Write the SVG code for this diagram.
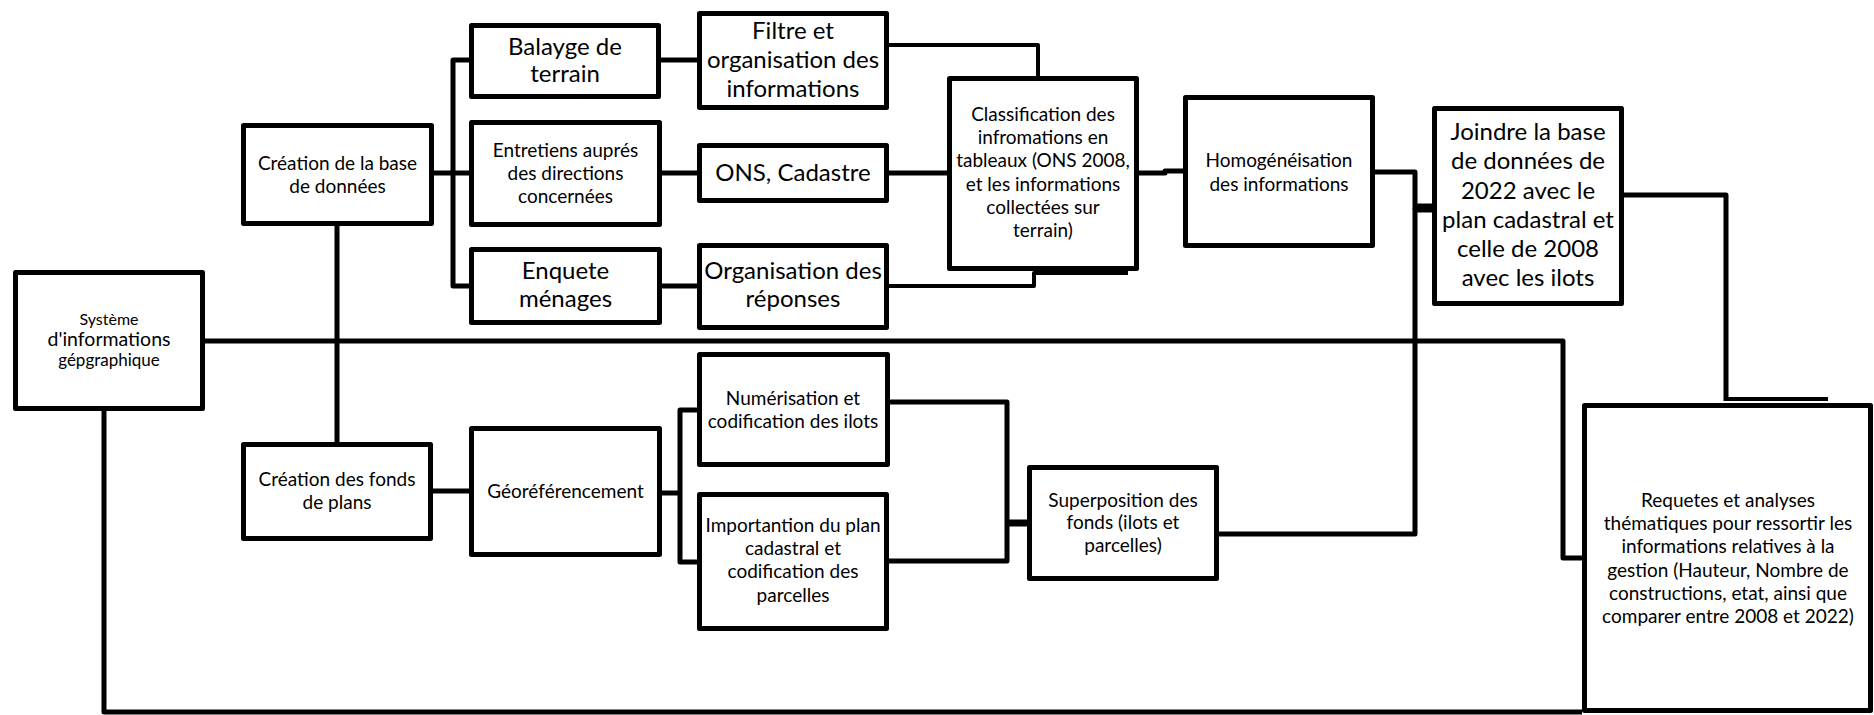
<svg xmlns="http://www.w3.org/2000/svg" width="1874" height="715" viewBox="0 0 1874 715">
<style>
.box{fill:#fff;stroke:#000;stroke-width:5;stroke-linejoin:round}
.ln{fill:none;stroke:#000;stroke-width:5;stroke-linejoin:round}
.thin{stroke-width:4}
text{font-family:Lato,"Open Sans","Liberation Sans",sans-serif;fill:#000;text-anchor:middle}
.s{font-size:19px}
.l{font-size:24px}
</style>
<rect width="1874" height="715" fill="#fff"/>
<g id="connectors">
<path class="ln" d="M434,173 H469"/>
<path class="ln" d="M469,60 H453 V286 H469"/>
<path class="ln" d="M661,60 H697"/>
<path class="ln" d="M662,173 H697"/>
<path class="ln" d="M662,286 H697"/>
<path class="ln thin" d="M889,45 H1038 V76"/>
<path class="ln" d="M889,173 H947"/>
<path class="ln thin" d="M889,286 H1034 V273 H1128"/>
<path class="ln" d="M1139,173 H1165 V171 H1183"/>
<path class="ln" d="M1375,172 H1415 V208 H1432"/>
<path class="ln" d="M1219,534 H1415 V208"/>
<path class="ln" style="stroke-width:9" d="M1415,208 H1432"/>
<path class="ln" d="M1624,195 H1726 V401"/>
<path class="ln thin" d="M1726,399 H1828"/>
<path class="ln" d="M337,226 V442"/>
<path class="ln" d="M205,341 H1563 V558 H1582"/>
<path class="ln" d="M104,411 V712 H1582"/>
<path class="ln" d="M433,491 H469"/>
<path class="ln" d="M662,493 H680"/>
<path class="ln" d="M697,410 H680 V562 H697"/>
<path class="ln" d="M889,402 H1007 V561 H889"/>
<path class="ln" style="stroke-width:7" d="M1007,523 H1027"/>
</g>
<g id="sig"><rect class="box" x="15.5" y="272.5" width="187" height="136"/>
<text x="109" y="325" style="font-size:16px">Système</text>
<text x="109" y="346" style="font-size:19.5px">d'informations</text>
<text x="109" y="366" style="font-size:17px">gépgraphique</text></g>
<g id="creation-base"><rect class="box" x="243.5" y="125.5" width="188" height="98"/>
<text class="s" x="337.5" y="170">Création de la base</text>
<text class="s" x="337.5" y="193">de données</text></g>
<g id="creation-fonds"><rect class="box" x="243.5" y="444.5" width="187" height="94"/>
<text class="s" x="337" y="486">Création des fonds</text>
<text class="s" x="337" y="509">de plans</text></g>
<g id="balayge"><rect class="box" x="471.5" y="25.5" width="187" height="71"/>
<text class="l" x="565" y="55">Balayge de</text>
<text class="l" x="565" y="82">terrain</text></g>
<g id="entretiens"><rect class="box" x="471.5" y="122.5" width="188" height="102"/>
<text class="s" x="565.5" y="157">Entretiens auprés</text>
<text class="s" x="565.5" y="180">des directions</text>
<text class="s" x="565.5" y="203">concernées</text></g>
<g id="enquete"><rect class="box" x="471.5" y="249.5" width="188" height="73"/>
<text class="l" x="565.5" y="279">Enquete</text>
<text class="l" x="565.5" y="307">ménages</text></g>
<g id="georef"><rect class="box" x="471.5" y="428.5" width="188" height="126"/>
<text class="s" x="565.5" y="498">Géoréférencement</text></g>
<g id="filtre"><rect class="box" x="699.5" y="13.5" width="187" height="94"/>
<text class="l" x="793" y="39">Filtre et</text>
<text class="l" x="793" y="68">organisation des</text>
<text class="l" x="793" y="97">informations</text></g>
<g id="ons"><rect class="box" x="699.5" y="145.5" width="187" height="55"/>
<text class="l" x="793" y="181">ONS, Cadastre</text></g>
<g id="organisation"><rect class="box" x="699.5" y="245.5" width="187" height="82"/>
<text class="l" x="793" y="279">Organisation des</text>
<text class="l" x="793" y="307">réponses</text></g>
<g id="numerisation"><rect class="box" x="699.5" y="354.5" width="188" height="110"/>
<text class="s" x="793" y="405">Numérisation et</text>
<text class="s" x="793" y="428">codification des ilots</text></g>
<g id="importantion"><rect class="box" x="699.5" y="494.5" width="187" height="134"/>
<text class="s" x="793" y="532">Importantion du plan</text>
<text class="s" x="793" y="555">cadastral et</text>
<text class="s" x="793" y="578">codification des</text>
<text class="s" x="793" y="602">parcelles</text></g>
<g id="classification"><rect class="box" x="949.5" y="78.5" width="187" height="190"/>
<text class="s" x="1043" y="121">Classification des</text>
<text class="s" x="1043" y="144">infromations en</text>
<text class="s" x="1043" y="167">tableaux (ONS 2008,</text>
<text class="s" x="1043" y="191">et les informations</text>
<text class="s" x="1043" y="214">collectées sur</text>
<text class="s" x="1043" y="237">terrain)</text></g>
<g id="superposition"><rect class="box" x="1029.5" y="467.5" width="187" height="111"/>
<text class="s" x="1123" y="507">Superposition des</text>
<text class="s" x="1123" y="529">fonds (ilots et</text>
<text class="s" x="1123" y="552">parcelles)</text></g>
<g id="homogeneisation"><rect class="box" x="1185.5" y="97.5" width="187" height="148"/>
<text class="s" x="1279" y="167">Homogénéisation</text>
<text class="s" x="1279" y="191">des informations</text></g>
<g id="joindre"><rect class="box" x="1434.5" y="108.5" width="187" height="195"/>
<text class="l" x="1528" y="140">Joindre la base</text>
<text class="l" x="1528" y="169">de données de</text>
<text class="l" x="1528" y="199">2022 avec le</text>
<text class="l" x="1528" y="228">plan cadastral et</text>
<text class="l" x="1528" y="257">celle de 2008</text>
<text class="l" x="1528" y="286">avec les ilots</text></g>
<g id="requetes"><rect class="box" x="1584.5" y="405.5" width="286" height="305"/>
<text class="s" x="1728" y="507">Requetes et analyses</text>
<text class="s" x="1728" y="530">thématiques pour ressortir les</text>
<text class="s" x="1728" y="553">informations relatives à la</text>
<text class="s" x="1728" y="577">gestion (Hauteur, Nombre de</text>
<text class="s" x="1728" y="600">constructions, etat, ainsi que</text>
<text class="s" x="1728" y="623">comparer entre 2008 et 2022)</text></g>
</svg>
